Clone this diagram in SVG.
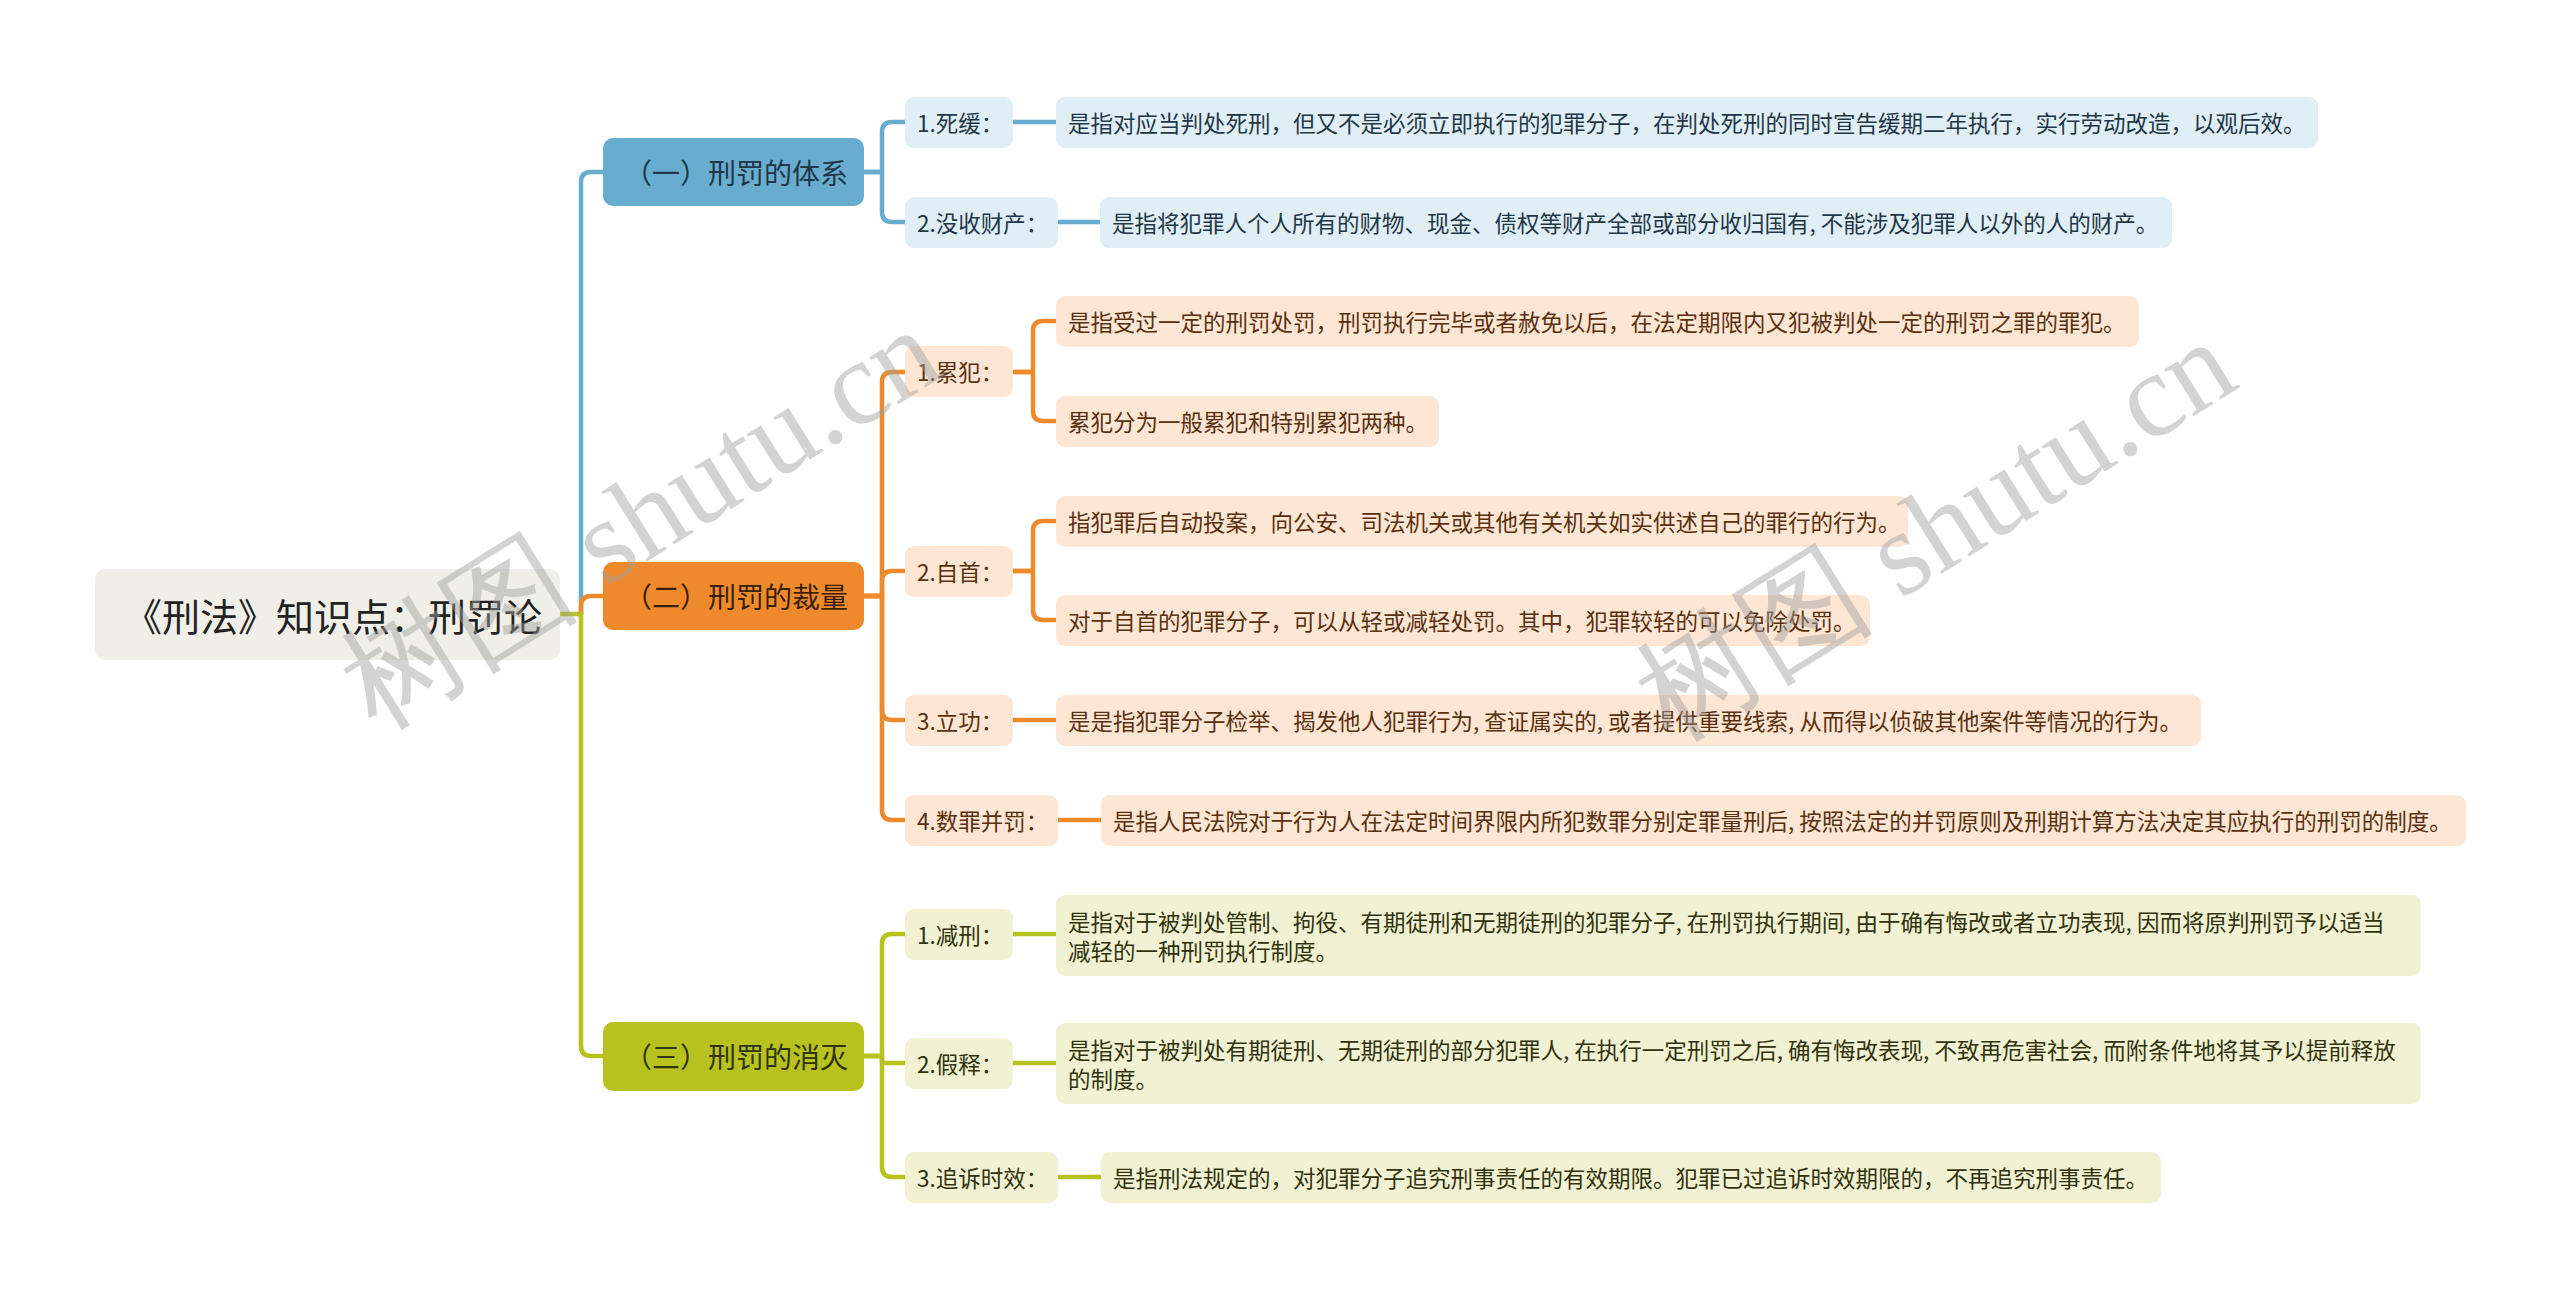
<svg xmlns="http://www.w3.org/2000/svg" width="2560" height="1300" viewBox="0 0 2560 1300">
<style>
text{font-family:"Noto Sans CJK SC","Microsoft YaHei","Noto Sans",sans-serif;dominant-baseline:central}
.root{fill:#efefe7}
.rt{font-size:38px;fill:#222}
.bt{font-size:28px;text-anchor:middle}
.lt{font-size:22.5px}
.c{fill:none;stroke-width:4.5;stroke-linecap:round;stroke-linejoin:round}
.cb{stroke:#68accf}.co{stroke:#ef8a2c}.cg{stroke:#b7c21f}
.b1{fill:#68accf}.b2{fill:#ef8a2c}.b3{fill:#b7c21f}
.lb{fill:#e0eef6}.lo{fill:#fde6d4}.lg{fill:#f1f2d4}
.tb{fill:#1f3747}.to{fill:#5a300f}.tg{fill:#30330c}
.wm{font-family:"Liberation Serif",serif;font-size:120px;fill:#a0a0a0;opacity:0.45;text-anchor:middle}
</style>
<rect width="2560" height="1300" fill="#ffffff"/>
<g id="connectors">
<path class="c cg" d="M560,614 H581"/>
<path class="c cb" d="M581,614 V182 Q581,172 591,172 H603"/>
<path class="c co" d="M581,614 V606 Q581,596 591,596 H603"/>
<path class="c cg" d="M581,614 V1046 Q581,1056 591,1056 H603"/>
<path class="c cb" d="M864,172 H882 V132 Q882,122 892,122 H905"/>
<path class="c cb" d="M864,172 H882 V212 Q882,222 892,222 H905"/>
<path class="c cb" d="M1013,122 H1056"/>
<path class="c cb" d="M1058,222 H1100"/>
<path class="c co" d="M864,596 H882 V382 Q882,372 892,372 H905"/>
<path class="c co" d="M864,596 H882 V581 Q882,571 892,571 H905"/>
<path class="c co" d="M864,596 H882 V710 Q882,720 892,720 H905"/>
<path class="c co" d="M864,596 H882 V810 Q882,820 892,820 H905"/>
<path class="c co" d="M1013,372 H1033 V331 Q1033,321 1043,321 H1056"/>
<path class="c co" d="M1013,372 H1033 V411 Q1033,421 1043,421 H1056"/>
<path class="c co" d="M1013,571 H1033 V531 Q1033,521 1043,521 H1056"/>
<path class="c co" d="M1013,571 H1033 V610 Q1033,620 1043,620 H1056"/>
<path class="c co" d="M1013,720 H1056"/>
<path class="c co" d="M1058,820 H1101"/>
<path class="c cg" d="M864,1056 H882 V944 Q882,934 892,934 H905"/>
<path class="c cg" d="M864,1056 H882 V1063 H905"/>
<path class="c cg" d="M864,1056 H882 V1167 Q882,1177 892,1177 H905"/>
<path class="c cg" d="M1013,934 H1056"/>
<path class="c cg" d="M1013,1063 H1056"/>
<path class="c cg" d="M1058,1177 H1101"/>
</g>
<g id="root"><rect class="root" x="95" y="569" width="465" height="91" rx="10"/><text class="rt" x="124" y="614">《刑法》知识点：刑罚论</text></g>
<g id="b1"><rect class="b1" x="603" y="138" width="261" height="68" rx="10"/><text class="bt tb" x="736" y="172">（一）刑罚的体系</text></g>
<g id="b2"><rect class="b2" x="603" y="562" width="261" height="68" rx="10"/><text class="bt" fill="#3a1f08" x="736" y="596">（二）刑罚的裁量</text></g>
<g id="b3"><rect class="b3" x="603" y="1022" width="261" height="69" rx="10"/><text class="bt tg" x="736" y="1056">（三）刑罚的消灭</text></g>

<g id="n1-1"><rect class="lb" x="905" y="97" width="108" height="51" rx="9"/><text class="lt tb" x="917" y="122">1.死缓：</text></g>
<g id="n1-1d"><rect class="lb" x="1056" y="97" width="1262" height="51" rx="9"/><text class="lt tb" x="1068" y="122">是指对应当判处死刑，但又不是必须立即执行的犯罪分子，在判处死刑的同时宣告缓期二年执行，实行劳动改造，以观后效。</text></g>
<g id="n1-2"><rect class="lb" x="905" y="197" width="153" height="51" rx="9"/><text class="lt tb" x="917" y="222">2.没收财产：</text></g>
<g id="n1-2d"><rect class="lb" x="1100" y="197" width="1072" height="51" rx="9"/><text class="lt tb" x="1112" y="222">是指将犯罪人个人所有的财物、现金、债权等财产全部或部分收归国有, 不能涉及犯罪人以外的人的财产。</text></g>

<g id="n2-1"><rect class="lo" x="905" y="346" width="108" height="51" rx="9"/><text class="lt to" x="917" y="371">1.累犯：</text></g>
<g id="n2-1a"><rect class="lo" x="1056" y="296" width="1083" height="51" rx="9"/><text class="lt to" x="1068" y="321">是指受过一定的刑罚处罚，刑罚执行完毕或者赦免以后，在法定期限内又犯被判处一定的刑罚之罪的罪犯。</text></g>
<g id="n2-1b"><rect class="lo" x="1056" y="396" width="383" height="51" rx="9"/><text class="lt to" x="1068" y="421">累犯分为一般累犯和特别累犯两种。</text></g>
<g id="n2-2"><rect class="lo" x="905" y="546" width="108" height="51" rx="9"/><text class="lt to" x="917" y="571">2.自首：</text></g>
<g id="n2-2a"><rect class="lo" x="1056" y="496" width="852" height="51" rx="9"/><text class="lt to" x="1068" y="521">指犯罪后自动投案，向公安、司法机关或其他有关机关如实供述自己的罪行的行为。</text></g>
<g id="n2-2b"><rect class="lo" x="1056" y="595" width="814" height="51" rx="9"/><text class="lt to" x="1068" y="620">对于自首的犯罪分子，可以从轻或减轻处罚。其中，犯罪较轻的可以免除处罚。</text></g>
<g id="n2-3"><rect class="lo" x="905" y="695" width="108" height="51" rx="9"/><text class="lt to" x="917" y="720">3.立功：</text></g>
<g id="n2-3d"><rect class="lo" x="1056" y="695" width="1145" height="51" rx="9"/><text class="lt to" x="1068" y="720">是是指犯罪分子检举、揭发他人犯罪行为, 查证属实的, 或者提供重要线索, 从而得以侦破其他案件等情况的行为。</text></g>
<g id="n2-4"><rect class="lo" x="905" y="795" width="153" height="51" rx="9"/><text class="lt to" x="917" y="820">4.数罪并罚：</text></g>
<g id="n2-4d"><rect class="lo" x="1101" y="795" width="1365" height="51" rx="9"/><text class="lt to" x="1113" y="820">是指人民法院对于行为人在法定时间界限内所犯数罪分别定罪量刑后, 按照法定的并罚原则及刑期计算方法决定其应执行的刑罚的制度。</text></g>

<g id="n3-1"><rect class="lg" x="905" y="909" width="108" height="51" rx="9"/><text class="lt tg" x="917" y="934">1.减刑：</text></g>
<g id="n3-1d"><rect class="lg" x="1056" y="895" width="1365" height="81" rx="9"/><text class="lt tg" x="1068" y="921">是指对于被判处管制、拘役、有期徒刑和无期徒刑的犯罪分子, 在刑罚执行期间, 由于确有悔改或者立功表现, 因而将原判刑罚予以适当</text><text class="lt tg" x="1068" y="950">减轻的一种刑罚执行制度。</text></g>
<g id="n3-2"><rect class="lg" x="905" y="1038" width="108" height="51" rx="9"/><text class="lt tg" x="917" y="1063">2.假释：</text></g>
<g id="n3-2d"><rect class="lg" x="1056" y="1023" width="1365" height="81" rx="9"/><text class="lt tg" x="1068" y="1049">是指对于被判处有期徒刑、无期徒刑的部分犯罪人, 在执行一定刑罚之后, 确有悔改表现, 不致再危害社会, 而附条件地将其予以提前释放</text><text class="lt tg" x="1068" y="1078">的制度。</text></g>
<g id="n3-3"><rect class="lg" x="905" y="1152" width="153" height="51" rx="9"/><text class="lt tg" x="917" y="1177">3.追诉时效：</text></g>
<g id="n3-3d"><rect class="lg" x="1101" y="1152" width="1060" height="51" rx="9"/><text class="lt tg" x="1113" y="1177">是指刑法规定的，对犯罪分子追究刑事责任的有效期限。犯罪已过追诉时效期限的，不再追究刑事责任。</text></g>

<g id="watermarks">
<text class="wm" transform="rotate(-32 640 518)" x="640" y="518">树图 shutu.cn</text>
<text class="wm" transform="rotate(-32 1935 530)" x="1935" y="530">树图 shutu.cn</text>
</g>
</svg>
